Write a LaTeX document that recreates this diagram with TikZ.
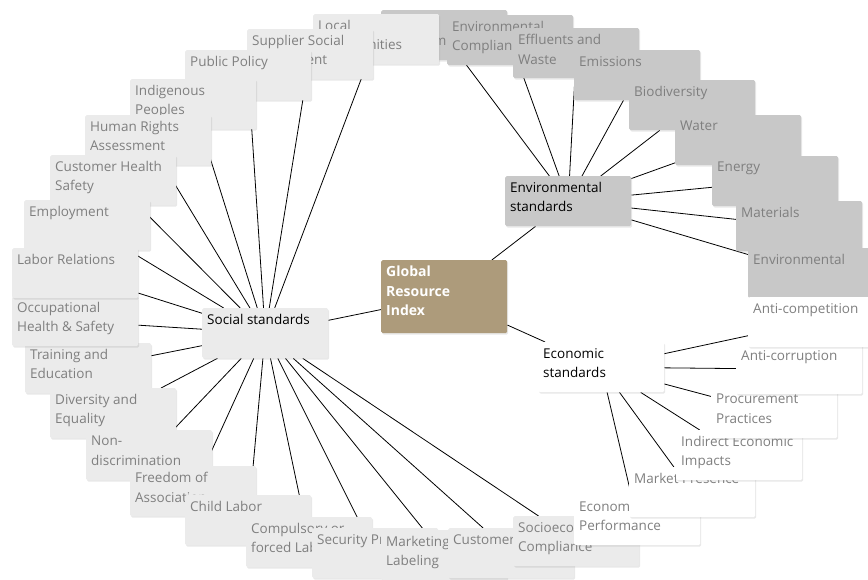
\documentclass[tikz,border=0pt]{standalone}
\usepackage{fontspec}
\setmainfont{Open Sans}
\usetikzlibrary{shadows}
\pgfdeclarelayer{fond}
\pgfsetlayers{fond,main}

\definecolor{brun}{HTML}{AD9B7B}
\definecolor{grisenv}{HTML}{C8C8C8}
\definecolor{grissoc}{HTML}{EBEBEB}
\definecolor{gristexte}{HTML}{7F7F7F}

% texte en haut a gauche de la boite
\newcommand{\boite}[2][38pt]{\parbox[t][#1][t]{116pt}{\raggedright #2}}

\tikzset{
  box/.style={anchor=north west, minimum width=126pt, minimum height=50pt,
    inner xsep=5pt, inner ysep=6pt, rounded corners=1.5pt,
    font=\fontsize{13.5}{19.5}\selectfont,
    drop shadow={shadow xshift=1pt, shadow yshift=-1.5pt, opacity=0.18}},
  envbox/.style={box, fill=grisenv, text=gristexte},
  socbox/.style={box, fill=grissoc, text=gristexte},
  ecobox/.style={box, fill=white, text=gristexte},
  lien/.style={line width=0.8pt, black}
}

\begin{document}
\begin{tikzpicture}[x=1pt, y=-1pt]
    \useasboundingbox (0,0) rectangle (868,580);
    \clip (0,0) rectangle (868,580);
    % Normes environnementales
    \node[envbox] (supenv) at (381,10) {\boite{Supplier\\Environmental}};
    \node[envbox] (compl) at (447,15) {\boite{Environmental\\Compliance}};
    \node[envbox] (effl) at (513,28) {\boite{Effluents and\\Waste}};
    \node[envbox] (emis) at (574,50) {\boite{Emissions}};
    \node[envbox] (biod) at (629,80) {\boite{Biodiversity}};
    \node[envbox] (water) at (675,115) {\boite{Water}};
    \node[envbox] (energy) at (712,156) {\boite{Energy}};
    \node[envbox] (mater) at (736,201) {\boite{Materials}};
    \node[envbox] (envir) at (748,248) {\boite{Environmental}};
    % Normes sociales
    \node[socbox] (local) at (313,14) {\boite{Local\\Communities}};
    \node[socbox] (supsoc) at (247,29) {\boite{Supplier Social\\Assessment}};
    \node[socbox] (policy) at (185,50) {\boite{Public Policy}};
    \node[socbox] (indig) at (130,79) {\boite{Indigenous\\Peoples}};
    \node[socbox] (rights) at (85,115) {\boite{Human Rights\\Assessment}};
    \node[socbox] (health) at (50,155) {\boite{Customer Health\\Safety}};
    \node[socbox] (employ) at (24,200) {\boite{Employment}};
    \node[socbox] (train) at (25,343) {\boite{Training and\\Education}};
    \node[socbox] (occup) at (12,296) {\boite{Occupational\\Health \& Safety}};
    \node[socbox] (labor) at (12,248) {\boite{Labor Relations}};
    \node[socbox] (divers) at (50,388) {\boite{Diversity and\\Equality}};
    \node[socbox] (nondis) at (86,430) {\boite{Non-\\discrimination}};
    \node[socbox] (freedom) at (130,466) {\boite{Freedom of\\Association}};
    \node[socbox] (child) at (185,495) {\boite{Child Labor}};
    \node[socbox] (forced) at (246,517) {\boite{Compulsory or\\forced Labor}};
    \node[socbox] (secur) at (312,528) {\boite{Security Practices}};
    \node[socbox] (market) at (381,530) {\boite{Marketing and\\Labeling}};
    \node[socbox] (privacy) at (448,528) {\boite{Customer Privacy}};
    \node[socbox] (socio) at (513,516) {\boite{Socioeconomic\\Compliance}};
    % Normes economiques
    \node[ecobox] (perf) at (574,495) {\boite{Economic\\Performance}};
    \node[ecobox] (presence) at (629,467) {\boite{Market Presence}};
    \node[ecobox] (indirect) at (676,430) {\boite{Indirect Economic\\Impacts}};
    \node[ecobox] (procure) at (711,388) {\boite{Procurement\\Practices}};
    \node[ecobox] (corrupt) at (736,344) {\boite{Anti-corruption}};
    \node[ecobox] (compet) at (748,297) {\boite{Anti-competition}};
    % Noeuds centraux
    \node[envbox, text=black] (envhub) at (505,176) {\boite{Environmental\\standards}};
    \node[socbox, text=black] (sochub) at (202,308) {\boite{Social standards}};
    \node[ecobox, text=black] (ecohub) at (538,342) {\boite{Economic\\standards}};
    \node[box, fill=brun, text=white, minimum width=125pt, minimum height=73pt,
      font=\fontsize{14}{19.5}\selectfont\bfseries] (gri) at (381,260) {\boite[61pt]{Global\\Resource\\Index}};
    % Liens
    \begin{pgfonlayer}{fond}
      \foreach \n in {envhub,sochub,ecohub} \draw[lien] (gri) -- (\n);
      \foreach \n in {supenv,compl,effl,emis,biod,water,energy,mater,envir} \draw[lien] (envhub) -- (\n);
      \foreach \n in {local,supsoc,policy,indig,rights,health,employ,labor,occup,train,divers,nondis,freedom,child,forced,secur,market,privacy,socio} \draw[lien] (sochub) -- (\n);
      \foreach \n in {perf,presence,indirect,procure,corrupt,compet} \draw[lien] (ecohub) -- (\n);
    \end{pgfonlayer}
\end{tikzpicture}
\end{document}
